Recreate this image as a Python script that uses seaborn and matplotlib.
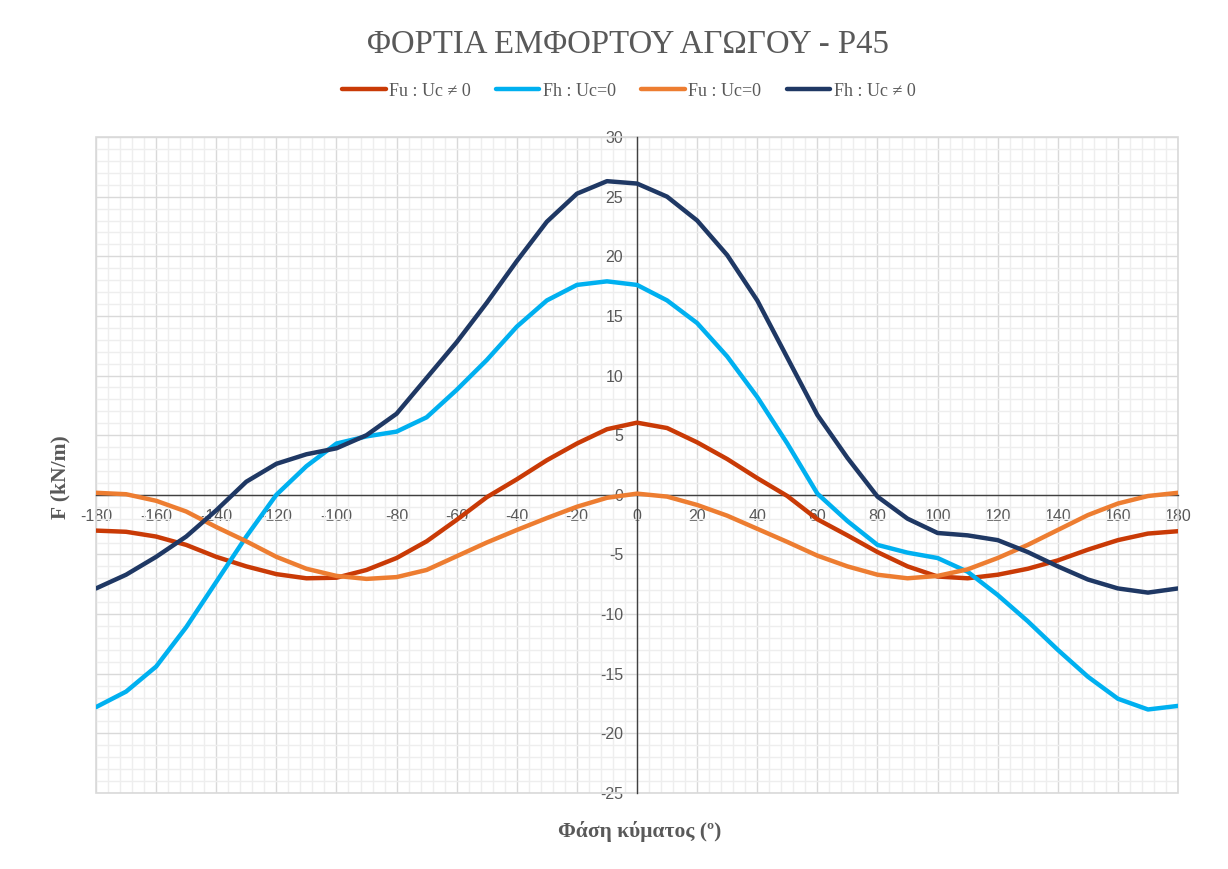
import pandas as pd
import seaborn as sns
import matplotlib.pyplot as plt
from matplotlib.ticker import MultipleLocator
from matplotlib.patches import Rectangle

# wave phase (deg) and loads (kN/m)
phase = list(range(-180, 181, 10))

fu_uc = [-3.0, -3.1, -3.5, -4.2, -5.2, -6.0, -6.65, -7.0, -6.95, -6.3,
         -5.3, -3.9, -2.1, -0.2, 1.3, 2.9, 4.3, 5.5, 6.05, 5.6,
         4.4, 3.0, 1.4, -0.1, -2.05, -3.4, -4.8, -6.0, -6.85, -7.0,
         -6.7, -6.2, -5.5, -4.6, -3.8, -3.25, -3.05]

fh_0 = [-17.8, -16.5, -14.4, -11.1, -7.3, -3.5, 0.0, 2.4, 4.3, 4.9,
        5.3, 6.5, 8.8, 11.3, 14.1, 16.3, 17.6, 17.9, 17.6, 16.3,
        14.4, 11.6, 8.2, 4.3, 0.1, -2.2, -4.2, -4.85, -5.3, -6.45,
        -8.4, -10.6, -13.0, -15.25, -17.1, -18.0, -17.7]

fu_0 = [0.17, 0.05, -0.5, -1.4, -2.7, -3.9, -5.2, -6.2, -6.8, -7.05,
        -6.9, -6.3, -5.15, -4.0, -2.95, -1.95, -1.0, -0.25, 0.1, -0.15,
        -0.85, -1.75, -2.85, -3.95, -5.1, -6.0, -6.7, -7.0, -6.8, -6.25,
        -5.3, -4.2, -2.95, -1.7, -0.73, -0.1, 0.17]

fh_uc = [-7.85, -6.7, -5.2, -3.5, -1.3, 1.1, 2.6, 3.4, 3.9, 5.0,
         6.8, 9.8, 12.8, 16.1, 19.6, 22.9, 25.25, 26.3, 26.1, 25.0,
         23.0, 20.1, 16.3, 11.5, 6.7, 3.1, -0.15, -2.0, -3.2, -3.4,
         -3.8, -4.8, -6.0, -7.1, -7.85, -8.2, -7.85]

series_names = ['Fu : Uc ≠ 0', 'Fh : Uc=0', 'Fu : Uc=0', 'Fh : Uc ≠ 0']
series_vals = [fu_uc, fh_0, fu_0, fh_uc]
colors = ['#C93A06', '#00B0F0', '#ED7D31', '#1F3864']

df = pd.concat([pd.DataFrame({'phase': phase, 'F': v, 'series': n})
                for n, v in zip(series_names, series_vals)], ignore_index=True)

sns.set_theme(style='white')
plt.rcParams['font.family'] = ['Liberation Sans', 'DejaVu Sans']
plt.rcParams['axes.unicode_minus'] = False
serif = ['Liberation Serif', 'DejaVu Serif']
grey = '#595959'

fig = plt.figure(figsize=(12.28, 8.69), dpi=100)
ax = fig.add_axes([0.0782, 0.0875, 0.8811, 0.7548])

sns.lineplot(data=df, x='phase', y='F', hue='series', hue_order=series_names,
             palette=colors, lw=3.2, errorbar=None, ax=ax, zorder=3,
             solid_joinstyle='round', solid_capstyle='round')

ax.set_xlim(-180, 180)
ax.set_ylim(-25, 30)
ax.xaxis.set_major_locator(MultipleLocator(20))
ax.xaxis.set_minor_locator(MultipleLocator(4))
ax.yaxis.set_major_locator(MultipleLocator(5))
ax.yaxis.set_minor_locator(MultipleLocator(1))
ax.grid(which='major', color='#d9d9d9', lw=1.0)
ax.grid(which='minor', color='#eeeeee', lw=1.0)
ax.set_axisbelow(True)

# axes crossing at the origin, like the Excel chart
for side in ['left', 'bottom']:
    ax.spines[side].set_position(('data', 0))
    ax.spines[side].set_color('#404040')
    ax.spines[side].set_linewidth(1.0)
    ax.spines[side].set_zorder(2.5)
ax.spines['top'].set_visible(False)
ax.spines['right'].set_visible(False)
ax.add_patch(Rectangle((0, 0), 1, 1, transform=ax.transAxes, fill=False,
                       ec='#d9d9d9', lw=1.2, clip_on=False, zorder=1))

ax.tick_params(which='both', length=0, labelsize=11.5, labelcolor=grey)
ax.tick_params(axis='y', pad=10)
ax.tick_params(axis='x', pad=10)
ax.set_xlabel('')
ax.set_ylabel('')

handles, labels = ax.get_legend_handles_labels()
ax.get_legend().remove()
leg = fig.legend(handles, labels, loc='center', bbox_to_anchor=(0.512, 0.895),
                 ncol=4, frameon=False, prop={'family': serif, 'size': 13},
                 handlelength=2.4, handletextpad=0.2, columnspacing=1.4)
for t in leg.get_texts():
    t.set_color(grey)

fig.text(0.511, 0.948, 'ΦΟΡΤΙΑ ΕΜΦΟΡΤΟΥ ΑΓΩΓΟΥ - P45', ha='center', va='center',
         family=serif, size=23.6, color=grey)
fig.text(0.049, 0.451, 'F (kN/m)', ha='center', va='center', rotation=90,
         family=serif, size=15.5, weight='bold', color=grey)
fig.text(0.521, 0.043, 'Φάση κύματος (º)', ha='center', va='center',
         family=serif, size=15.5, weight='bold', color=grey)

fig.savefig('out.png', dpi=100)
